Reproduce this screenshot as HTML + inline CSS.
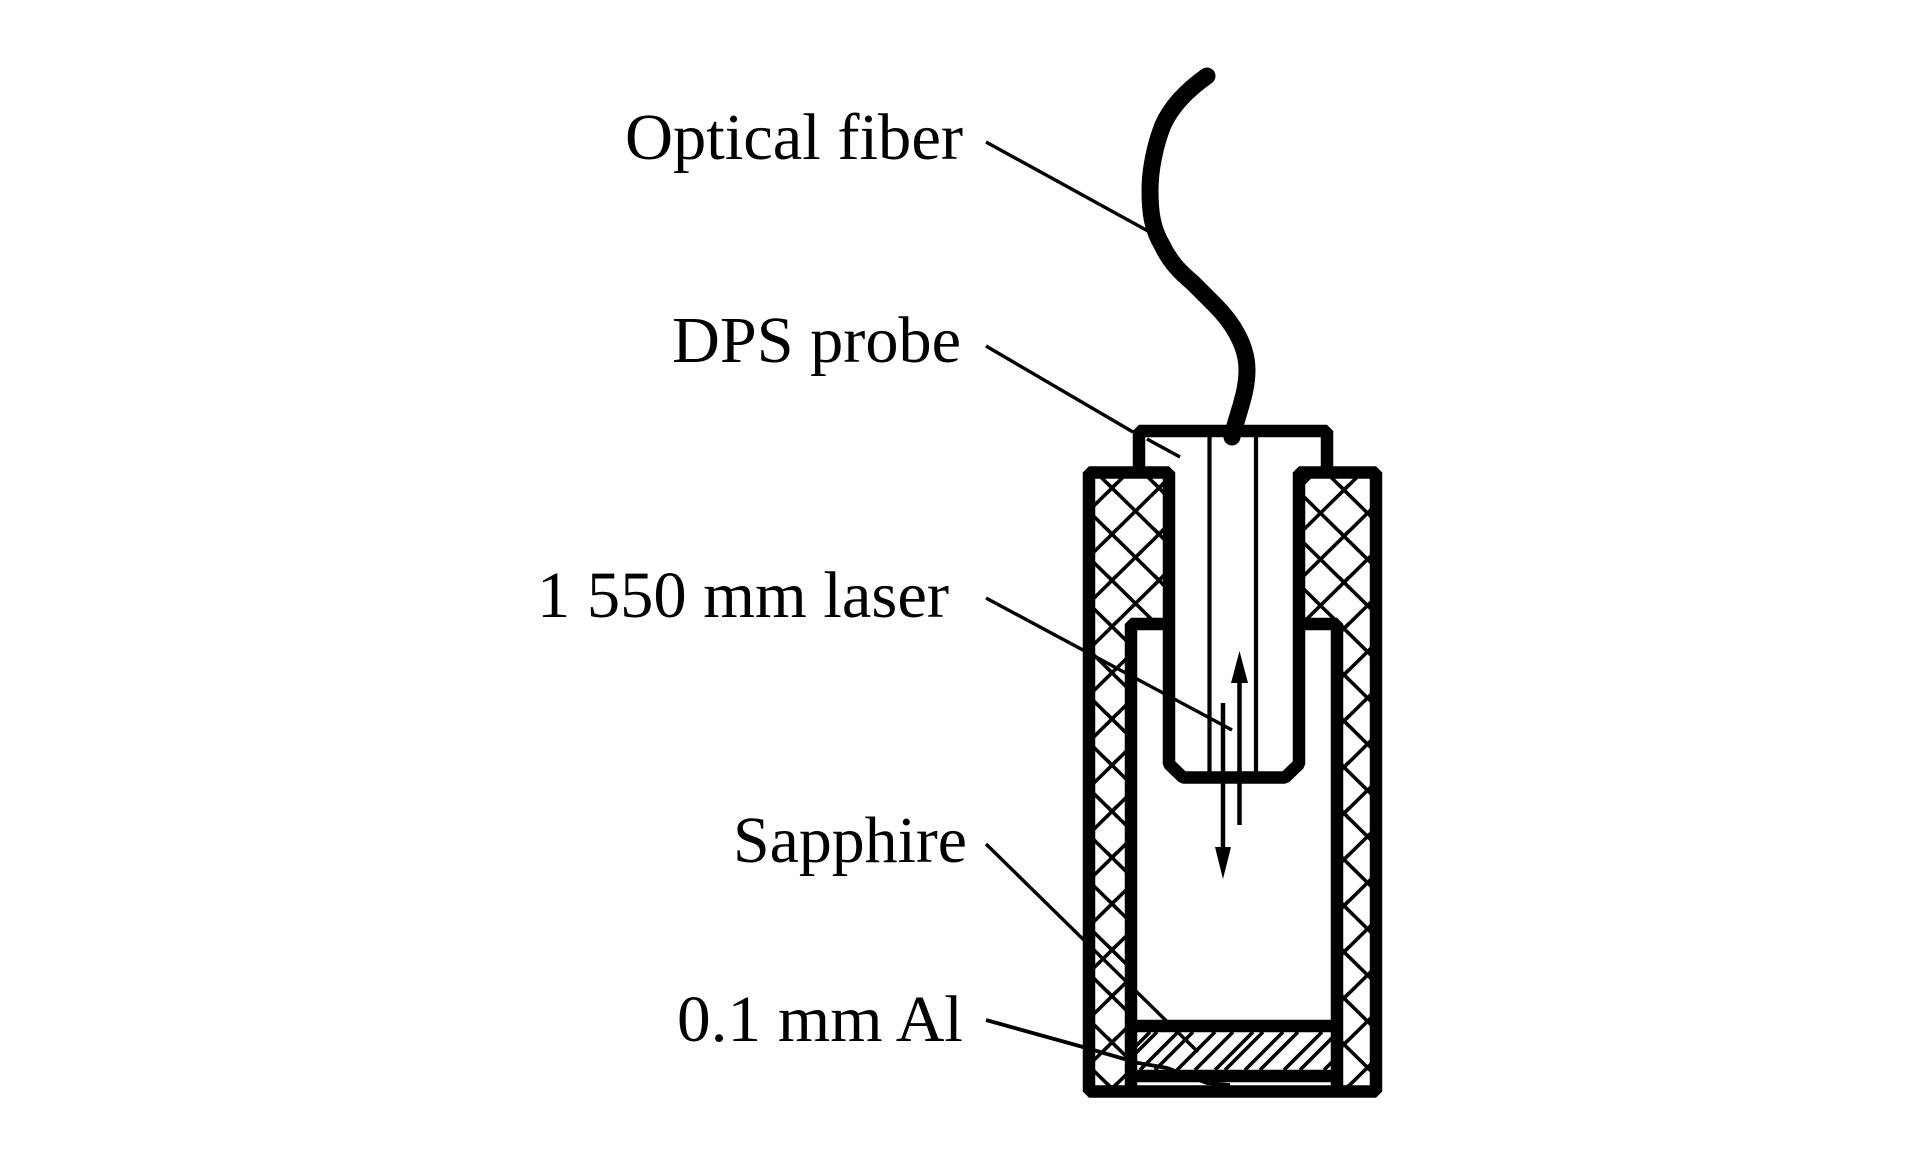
<!DOCTYPE html>
<html>
<head>
<meta charset="utf-8">
<style>
html,body{margin:0;padding:0;background:#fff;}
svg{display:block;}
text{font-family:"Liberation Serif",serif;font-size:66px;fill:#000;}
</style>
</head>
<body>
<svg width="1923" height="1169" viewBox="0 0 1923 1169" xmlns="http://www.w3.org/2000/svg">
<defs>
<pattern id="xl" patternUnits="userSpaceOnUse" width="47" height="46.2" patternTransform="translate(1112,488)">
<path d="M0,0L47,46.2M47,0L0,46.2M-5,-5L5,5M42,41L52,51M52,-5L42,5M5,41L-5,51" stroke="#000" stroke-width="3.6" fill="none"/>
</pattern>
<pattern id="xr" patternUnits="userSpaceOnUse" width="47" height="46.2" patternTransform="translate(1344,490)">
<path d="M0,0L47,46.2M47,0L0,46.2M-5,-5L5,5M42,41L52,51M52,-5L42,5M5,41L-5,51" stroke="#000" stroke-width="3.6" fill="none"/>
</pattern>
<clipPath id="sap"><rect x="1137" y="1032" width="195" height="38"/></clipPath>
</defs>
<rect width="1923" height="1169" fill="#fff"/>

<!-- cross hatching -->
<path d="M1095,478H1163V618H1125V1087H1095Z" fill="url(#xl)"/>
<path d="M1305,478H1370V1087H1343V618H1305Z" fill="url(#xr)"/>

<!-- sapphire hatching -->
<g clip-path="url(#sap)" stroke="#000" stroke-width="3.6" fill="none">
<path d="M1150,1032L1112,1070M1157,1032L1119,1070M1178,1032L1140,1070M1193,1032L1155,1070M1215,1032L1177,1070M1233,1032L1195,1070M1253,1032L1215,1070M1263,1032L1225,1070M1283,1032L1245,1070M1298,1032L1260,1070M1322,1032L1284,1070M1338,1032L1300,1070M1362,1032L1324,1070"/>
</g>

<!-- thin inner probe lines -->
<path d="M1209.5,437V772M1256,437V772" stroke="#000" stroke-width="4.2" fill="none"/>

<!-- leader lines -->
<g fill="none" stroke="#000" stroke-width="3.4" stroke-linecap="butt">
<path d="M986,142L1148,231"/>
<path d="M986,346L1133,432M1147,439L1180,457"/>
<path d="M986,598L1232,730"/>
<path d="M986,844L1198,1052"/>
<path d="M986,1020L1083,1047L1138,1063L1167,1068L1207,1083L1230,1085" stroke-width="3.8"/>
</g>

<!-- body walls -->
<g fill="none" stroke="#000" stroke-width="12.5" stroke-linejoin="bevel">
<path d="M1089,1091.5V472.5H1169V764L1183,777.5H1285L1299,764V472.5H1376V1091.5Z"/>
<path d="M1139,472V431H1327V472"/>
<path d="M1131,1090V624H1169M1299,624H1337V1090"/>
<path d="M1131,1026H1337M1131,1076H1337"/>
</g>

<!-- fiber -->
<path d="M1207,76C1190,88 1172,105 1163,125C1155,145 1150,170 1150,190C1150,215 1153,230 1162,245C1170,262 1180,272 1193,283L1215,305C1232,322 1247,345 1247,370C1247,393 1238,412 1232,437" fill="none" stroke="#000" stroke-width="17" stroke-linecap="round" stroke-linejoin="round"/>

<!-- arrows -->
<path d="M1239.5,680V825M1223,703V850" stroke="#000" stroke-width="4.5" fill="none"/>
<polygon points="1239.5,651 1231,683 1248,683" fill="#000"/>
<polygon points="1223,879 1215,847 1231,847" fill="#000"/>

<!-- labels -->
<text x="625" y="159" textLength="338" lengthAdjust="spacingAndGlyphs">Optical fiber</text>
<text x="672" y="362" textLength="289" lengthAdjust="spacingAndGlyphs">DPS probe</text>
<text x="537" y="617" textLength="412" lengthAdjust="spacingAndGlyphs">1 550 mm laser</text>
<text x="733" y="862" textLength="234" lengthAdjust="spacingAndGlyphs">Sapphire</text>
<text x="677" y="1041" textLength="286" lengthAdjust="spacingAndGlyphs">0.1 mm Al</text>
</svg>
</body>
</html>
